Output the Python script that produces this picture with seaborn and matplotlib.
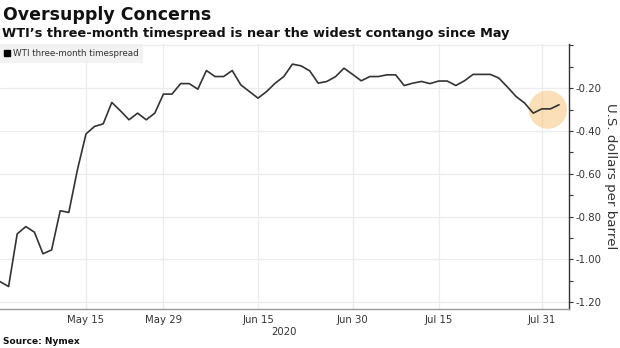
import numpy as np
import pandas as pd
import matplotlib
matplotlib.use("Agg")
import matplotlib.pyplot as plt
from matplotlib.lines import Line2D
import seaborn as sns

# Trading-day index (0 = May 1, 2020) and values (USD per barrel)
spread = [
    -1.104, -1.127, -0.881, -0.847, -0.873, -0.974, -0.956, -0.773, -0.781, -0.582,
    -0.414, -0.379, -0.367, -0.267, -0.306, -0.348, -0.317, -0.348, -0.317, -0.228,
    -0.228, -0.179, -0.179, -0.205, -0.118, -0.146, -0.146, -0.118, -0.185, -0.216,
    -0.247, -0.216, -0.177, -0.146, -0.088, -0.096, -0.119, -0.177, -0.169, -0.147,
    -0.107, -0.136, -0.166, -0.146, -0.146, -0.138, -0.138, -0.188, -0.177, -0.169,
    -0.179, -0.167, -0.167, -0.188, -0.166, -0.136, -0.136, -0.136, -0.153, -0.195,
    -0.239, -0.270, -0.317, -0.297, -0.297, -0.278,
]
day_index = list(range(len(spread)))

tick_days = [10, 19, 30, 41, 51, 63]
tick_labels = ["May 15", "May 29", "Jun 15", "Jun 30", "Jul 15", "Jul 31"]
minor_days = [4, 15, 25, 35, 46, 57]

y_ticks = [0.0, -0.2, -0.4, -0.6, -0.8, -1.0, -1.2]
y_tick_labels = ["", "-0.20", "-0.40", "-0.60", "-0.80", "-1.00", "-1.20"]
y_minor = [-0.1, -0.3, -0.5, -0.7, -0.9, -1.1]

df = pd.DataFrame({"day": day_index, "spread": spread})

sns.set_style("white")
plt.rcParams["font.family"] = ["DejaVu Sans"]

fig = plt.figure(figsize=(6.2, 3.48), dpi=100)
ax = fig.add_axes([0.0, 39 / 348, 568.5 / 620, 265 / 348])

# highlight circle around the latest points
last = df.tail(3)
ax.scatter([last["day"].mean() - 0.3], [last["spread"].mean() - 0.01], s=760,
           color="#f7c57f", alpha=0.55, edgecolors="none", zorder=1)

sns.lineplot(data=df, x="day", y="spread", ax=ax, color="#333333",
             linewidth=1.2, zorder=3)

ax.set_xlim(0, 66.1)
ax.set_ylim(-1.232, 0.006)

ax.yaxis.tick_right()
ax.yaxis.set_label_position("right")
ax.set_yticks(y_ticks)
ax.set_yticklabels(y_tick_labels)
ax.set_yticks(y_minor, minor=True)
ax.set_xticks(tick_days)
ax.set_xticklabels(tick_labels)
ax.set_xticks(minor_days, minor=True)

ax.grid(True, which="major", color="#ececec", linewidth=0.9)
ax.set_axisbelow(True)

for s in ["left", "top"]:
    ax.spines[s].set_visible(False)
ax.spines["right"].set_color("#333333")
ax.spines["right"].set_linewidth(1.0)
ax.spines["bottom"].set_color("#9a9a9a")
ax.spines["bottom"].set_linewidth(1.0)

ax.tick_params(axis="y", which="both", direction="out", length=3, width=0.8,
               colors="#333333", labelsize=7.3, pad=2, right=True, left=False)
ax.tick_params(axis="y", which="minor", length=3)
ax.tick_params(axis="x", which="both", direction="out", length=2.5, width=0.8,
               color="#9a9a9a", labelcolor="#333333", labelsize=7.3, pad=2)

ax.set_xlabel("2020", fontsize=7.3, color="#333333", labelpad=1)
ax.set_ylabel("U.S. dollars per barrel", fontsize=9.6, color="#333333",
              rotation=270, labelpad=11)

handle = Line2D([], [], marker="s", color="black", linestyle="none", markersize=4.4)
leg = ax.legend([handle], ["WTI three-month timespread"], loc="upper left",
                bbox_to_anchor=(0.0, 1.0), frameon=True, fontsize=6.3,
                handlelength=0.5, handletextpad=0.4, borderpad=0.55,
                borderaxespad=0.0, fancybox=False)
leg.get_frame().set_facecolor("#efefef")
leg.get_frame().set_edgecolor("none")
for t in leg.get_texts():
    t.set_color("#333333")

fig.text(3 / 620, 1 - 15 / 348, "Oversupply Concerns", fontsize=12.5,
         fontweight="bold", color="#111111", va="center", ha="left")
fig.text(2 / 620, 1 - 33 / 348,
         "WTI\u2019s three-month timespread is near the widest contango since May",
         fontsize=9.3, fontweight="bold", color="#111111", va="center", ha="left")
fig.text(3 / 620, 1 - 341 / 348, "Source: Nymex", fontsize=6.5,
         fontweight="bold", color="#111111", va="center", ha="left")

fig.savefig("out.png", dpi=100)
